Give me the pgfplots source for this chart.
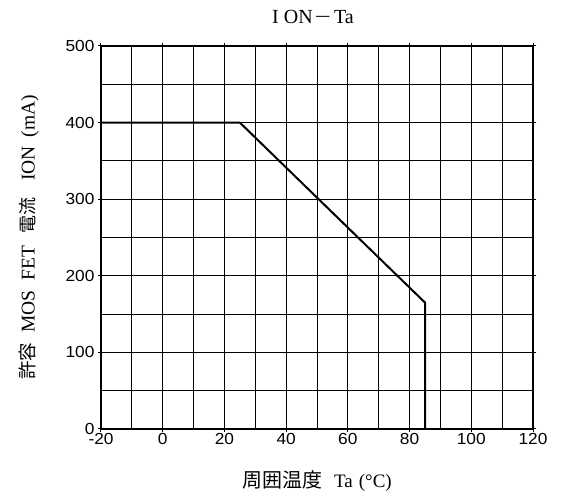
\documentclass[border=0pt]{standalone}
\usepackage{fontspec}
\usepackage{graphicx}
\setmainfont{Liberation Serif}
\setsansfont[FakeStretch=1.08]{Liberation Sans}
\newfontfamily\lab{Liberation Serif}
\newfontfamily\jp{Noto Sans CJK JP}
\usepackage{pgfplots}
\pgfplotsset{compat=1.18}
\begin{document}
\begin{tikzpicture}
\begin{axis}[name=ax, scale only axis, width=432pt, height=383pt,
  xmin=-20, xmax=120, ymin=0, ymax=500,
  xtick={-20,0,...,120}, ytick={0,100,...,500},
  minor xtick={-10,10,...,110}, minor ytick={50,150,...,450},
  grid=both,
  major grid style={black, line width=1.25pt},
  minor grid style={black, line width=0.9pt},
  axis line style={line width=2pt},
  tick style={black, line width=1pt}, tick align=outside,
  major tick length=3pt, minor tick length=0pt,
  ticklabel style={font=\fontsize{16}{17}\sffamily\selectfont},
  /pgf/number format/assume math mode=true,
  xticklabel style={yshift=2pt},
  title style={font=\fontsize{20}{22}\lab\selectfont, yshift=13pt, xshift=-4pt},
  title={I\hspace{5pt}ON\hspace{2pt}\scalebox{1.45}[1]{−}\hspace{3pt}Ta},
  xlabel style={font=\fontsize{19}{21}\lab\selectfont, yshift=-19pt},
  xlabel={{\jp\fontsize{20}{21}\selectfont 周囲温度}\hspace{12pt}Ta\hspace{6pt}(°C)},
  ylabel style={font=\fontsize{19.5}{21}\lab\selectfont, yshift=20pt},
  ylabel={{\jp\fontsize{18.5}{21}\selectfont 許容}\hspace{10pt}MOS\hspace{10pt}FET\hspace{12pt}{\jp\fontsize{18}{21}\selectfont 電流}\hspace{17pt}ION\hspace{9pt}(mA)},
]
\addplot[black, line width=2pt] coordinates {(-20,400) (25,400) (85,165) (85,0)};
\end{axis}
\pgfresetboundingbox
\path[use as bounding box] ([shift={(-101pt,-70pt)}]ax.south west) rectangle ([shift={(34pt,46pt)}]ax.north east);
\end{tikzpicture}
\end{document}
